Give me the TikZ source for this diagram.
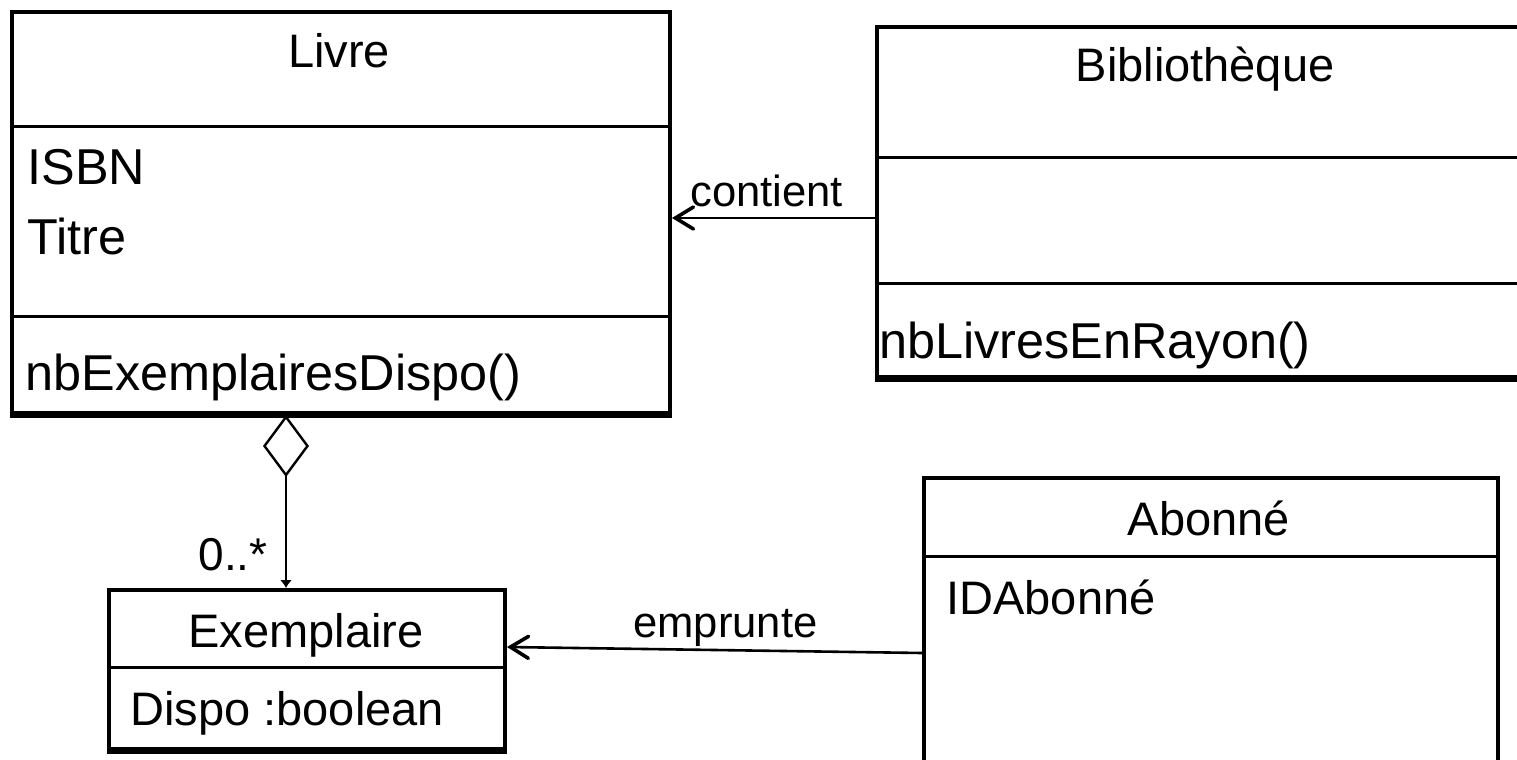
\documentclass[tikz,border=0pt]{standalone}
\usepackage{fontspec}
\setmainfont{Liberation Sans}
\usetikzlibrary{arrows.meta,calc}
\begin{document}
\begin{tikzpicture}[x=0.5pt,y=-0.5pt,
  classbox/.style={draw, line width=2pt, anchor=north west, inner sep=0pt, rectangle},
  sep/.style={line width=1.5pt},
  heavy/.style={line width=3.2pt},
  cname/.style={font=\fontsize{23.5}{28}\selectfont, inner sep=0pt, anchor=base},
  member/.style={font=\fontsize{23.5}{28}\selectfont, inner sep=0pt, anchor=base west},
  bigmember/.style={member, font=\fontsize{25.2}{30}\selectfont},
  lbl/.style={font=\fontsize{21.8}{26}\selectfont, inner sep=0pt},
  assoc/.style={line width=1.3pt, -{Straight Barb[length=9pt,width=11pt,line width=1.8pt,line cap=round]}},
  aggr/.style={line width=1.2pt, {Diamond[open,length=31pt,width=23pt,line width=1.2pt]}-{Latex[length=4pt,width=6pt]}},
]
\clip (0,0) rectangle (1517,760);
\fill[white] (0,0) rectangle (1517,760);

% Livre
\node[classbox, minimum width=329pt, minimum height=200.5pt] (livre) at (10,10) {};
\draw[sep] (livre.west |- 0,126) -- (livre.east |- 0,126);
\draw[sep] (livre.west |- 0,316) -- (livre.east |- 0,316);
\draw[heavy] (livre.south west) -- (livre.south east);
\node[cname] (livreN) at (339,68) {Livre};
\node[bigmember] (isbn) at (27,184) {ISBN};
\node[bigmember] (titre) at (27,254) {Titre};
\node[bigmember] (nbex) at (25,390) {nbExemplairesDispo()};

% Bibliotheque
\node[classbox, minimum width=330pt, minimum height=175pt] (bib) at (875,25) {};
\draw[sep] (bib.west |- 0,157) -- (bib.east |- 0,157);
\draw[sep] (bib.west |- 0,283) -- (bib.east |- 0,283);
\draw[heavy] (bib.south west) -- (bib.south east);
\node[cname] (bibN) at (1205,82) {Bibliothèque};
\node[bigmember] (nblr) at (879,358) {nbLivresEnRayon()};

% Exemplaire
\node[classbox, minimum width=198pt, minimum height=79.5pt] (exem) at (107,588) {};
\draw[sep] (exem.west |- 0,667) -- (exem.east |- 0,667);
\draw[heavy] (exem.south west) -- (exem.south east);
\node[cname] (exemN) at (306,647) {Exemplaire};
\node[member] (dispo) at (130,725) {Dispo :boolean};

% Abonne
\node[classbox, minimum width=287pt, minimum height=157pt] (abon) at (922,476) {};
\draw[sep] (abon.west |- 0,556) -- (abon.east |- 0,556);
\node[cname] (abonN) at (1209,535) {Abonné};
\node[member] (idab) at (946,614) {IDAbonné};

% associations
\coordinate (aggx) at (286,0);
\draw[aggr] (livre.south -| aggx) -- (exem.north -| aggx);
\node[lbl, anchor=base east, font=\fontsize{23}{27}\selectfont] (mult) at (268,570) {0..*};

\draw[assoc] (bib.west |- 0,218) -- (livre.east |- 0,218);
\node[lbl, anchor=base west] (contient) at (690,206) {contient};

\draw[assoc] (abon.west |- 0,653) -- (exem.east |- 0,647);
\node[lbl, anchor=base west] (emprunte) at (633,637) {emprunte};
\end{tikzpicture}
\end{document}
